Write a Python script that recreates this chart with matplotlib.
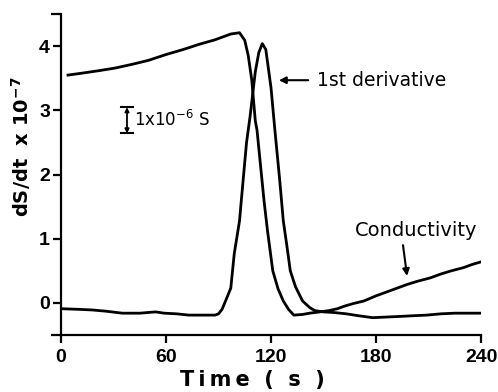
import matplotlib
matplotlib.use('Agg')
from matplotlib import pyplot as plt
from matplotlib.ticker import FixedLocator

# conductivity trace
cond_t = [4, 12, 22, 31, 41, 50, 60, 70, 79, 88, 97, 102, 105, 107, 109, 111, 112,
          116, 118, 121, 124, 127, 130, 133, 138, 142, 148, 153, 158, 162, 167, 173,
          180, 186, 192, 198, 204, 211, 217, 223, 230, 235, 240]
cond_v = [3.55, 3.58, 3.62, 3.66, 3.72, 3.78, 3.87, 3.95, 4.03, 4.1, 4.19, 4.21, 4.09,
          3.85, 3.47, 2.84, 2.69, 1.59, 1.12, 0.5, 0.22, 0.03, -0.1, -0.19, -0.18, -0.16,
          -0.14, -0.12, -0.09, -0.05, -0.01, 0.03, 0.11, 0.17, 0.23, 0.29, 0.34, 0.39,
          0.45, 0.5, 0.55, 0.6, 0.64]

# 1st derivative trace
deriv_t = [0, 10, 18, 26, 35, 45, 54, 59, 66, 73, 80, 88, 90, 92, 94, 97, 99, 102, 103,
           106, 108, 111, 113, 115, 117, 120, 122, 125, 127, 129, 131, 134, 138, 142, 145,
           150, 156, 163, 170, 178, 186, 194, 201, 209, 217, 225, 233, 240]
deriv_v = [-0.09, -0.1, -0.11, -0.13, -0.16, -0.16, -0.14, -0.16, -0.17, -0.19, -0.19,
           -0.19, -0.17, -0.1, 0.03, 0.23, 0.77, 1.28, 1.59, 2.5, 2.9, 3.6, 3.9, 4.04, 3.95,
           3.35, 2.75, 1.9, 1.28, 0.9, 0.5, 0.25, 0.03, -0.07, -0.12, -0.14, -0.15, -0.17,
           -0.2, -0.23, -0.22, -0.21, -0.2, -0.19, -0.17, -0.16, -0.16, -0.16]

x_ticks = [0, 60, 120, 180, 240]
y_ticks = [0, 1, 2, 3, 4]

tick_font = ['Liberation Sans', 'DejaVu Sans']

fig = plt.figure(figsize=(4.98, 3.92), dpi=100)
ax = fig.add_axes([0.1225, 0.1454, 0.8435, 0.8186])

ax.plot(cond_t, cond_v, color='black', lw=2.0, solid_joinstyle='round')
ax.plot(deriv_t, deriv_v, color='black', lw=2.0, solid_joinstyle='round')

ax.set_xlim(0, 240)
ax.set_ylim(-0.5, 4.5)
ax.spines['top'].set_visible(False)
ax.spines['right'].set_visible(False)
ax.spines['left'].set_linewidth(1.6)
ax.spines['bottom'].set_linewidth(1.6)

ax.set_xticks(x_ticks)
ax.set_yticks(y_ticks)
ax.yaxis.set_minor_locator(FixedLocator([-0.5, 4.5]))
ax.tick_params(axis='both', which='both', direction='out', length=6, width=1.6,
               labelsize=14)
ax.tick_params(axis='y', which='minor', length=7)
ax.tick_params(axis='y', pad=2)
ax.tick_params(axis='x', pad=4)
for lab in ax.get_xticklabels() + ax.get_yticklabels():
    lab.set_fontweight('bold')
    lab.set_family(tick_font)

ax.set_xlabel('T\u2009i\u2009m\u2009e  (  s  )', fontsize=15, fontweight='bold')
ax.xaxis.set_label_coords(0.456, -0.11)
ax.set_ylabel('dS/dt  x 10$^{\\mathbf{-7}}$', fontsize=14, fontweight='bold')
ax.yaxis.set_label_coords(-0.067, 0.586)

# labels with arrows
ax.annotate('1st derivative', xy=(124.5, 3.47), xytext=(146, 3.47), fontsize=13.5,
            va='center', ha='left',
            arrowprops=dict(arrowstyle='-|>', color='black', lw=1.5,
                            mutation_scale=10, shrinkA=4, shrinkB=0))
ax.text(203, 1.13, 'Conductivity', fontsize=14, ha='center', va='center')
ax.annotate('', xy=(197.7, 0.42), xytext=(195.4, 0.9),
            arrowprops=dict(arrowstyle='-|>', color='black', lw=1.5,
                            mutation_scale=10, shrinkA=0, shrinkB=0))

# scale bar
bar_x, bar_lo, bar_hi = 37.7, 2.64, 3.05
ax.annotate('', xy=(bar_x, bar_lo), xytext=(bar_x, bar_hi),
            arrowprops=dict(arrowstyle='<|-|>', color='black', lw=1.3,
                            mutation_scale=6, shrinkA=0, shrinkB=0))
ax.plot([bar_x - 3.5, bar_x + 3.5], [bar_hi, bar_hi], color='black', lw=1.5)
ax.plot([bar_x - 3.5, bar_x + 3.5], [bar_lo, bar_lo], color='black', lw=1.5)
ax.text(41.5, 2.85, '1x10$^{-6}$ S', fontsize=12, ha='left', va='center')

fig.savefig('out.png', dpi=100)
